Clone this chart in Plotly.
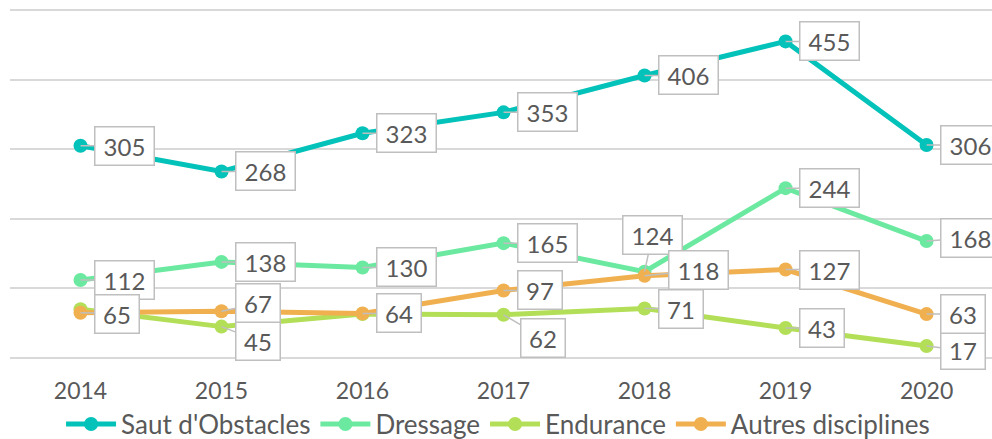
import plotly.graph_objects as go

years = ["2014", "2015", "2016", "2017", "2018", "2019", "2020"]
saut = [305, 268, 323, 353, 406, 455, 306]
dressage = [112, 138, 130, 165, 124, 244, 168]
endurance = [70, 45, 63, 62, 71, 43, 17]
autres = [65, 67, 64, 97, 118, 127, 63]

series_names = ["Saut d'Obstacles", "Dressage", "Endurance", "Autres disciplines"]
series_values = [saut, dressage, endurance, autres]
colors = ["#03C2B9", "#6CE9A0", "#B3DF58", "#F0B050"]

# which points carry a visible data label (per series)
shown = [
    [True] * 7,
    [True] * 7,
    [False, True, False, True, True, True, True],
    [True] * 7,
]
# label offsets in pixels (dx, dy) for special cases; default = right of point
special = {
    (3, 0): (None, 1),
    (3, 1): (None, -8),
    (2, 1): (None, 14),
    (2, 3): (39, 23),
    (3, 4): (54, -6),
    (1, 4): (8, -37),
    (2, 6): (None, 4),
    (1, 6): (None, -3),
}

FONT = "Lato, sans-serif"
TXT = "#595959"

fig = go.Figure()
for name, vals, col in zip(series_names, series_values, colors):
    fig.add_trace(go.Scatter(
        x=years, y=vals, name=name, mode="lines+markers",
        line=dict(color=col, width=5),
        marker=dict(color=col, size=14),
        hoverinfo="skip",
    ))

for si, vals in enumerate(series_values):
    for i, v in enumerate(vals):
        if not shown[si][i]:
            continue
        txt = str(v)
        w = 54 if len(txt) >= 3 else 39
        dx = 15 + (w + 4) / 2
        dy = 0
        if (si, i) in special:
            sdx, sdy = special[(si, i)]
            if sdx is not None:
                dx = sdx
            dy = sdy
        fig.add_annotation(
            x=i, y=v, xref="x", yref="y", text=txt,
            showarrow=True, arrowhead=0, arrowwidth=1.5, arrowcolor="#BFBFBF",
            ax=dx, ay=dy, standoff=0,
            bgcolor="white", bordercolor="#BFBFBF", borderwidth=1.5, borderpad=2,
            width=w, height=33,
            font=dict(family=FONT, size=24, color=TXT),
        )

fig.update_layout(
    width=992, height=439,
    margin=dict(l=10, r=0, t=8, b=79, autoexpand=False),
    paper_bgcolor="white", plot_bgcolor="white",
    showlegend=True,
    legend=dict(orientation="h", x=0.497, xanchor="center", y=-0.182, yanchor="middle",
                font=dict(family=FONT, size=26, color=TXT), itemwidth=50,
                traceorder="normal"),
    font=dict(family=FONT, color=TXT),
)
fig.update_xaxes(
    type="category", range=[-0.5, 6.464], showgrid=False, zeroline=False,
    showline=False, ticks="", ticklabelstandoff=15,
    tickfont=dict(family=FONT, size=23, color=TXT),
)
fig.update_yaxes(
    range=[-3, 503], dtick=100, showgrid=True, gridcolor="#D9D9D9", gridwidth=1.5,
    zeroline=False, showticklabels=False, ticks="",
)
fig.write_html(
    "out.html",
    config={"displayModeBar": False},
    post_script="document.body.style.margin='0';document.body.style.overflow='hidden';",
)
